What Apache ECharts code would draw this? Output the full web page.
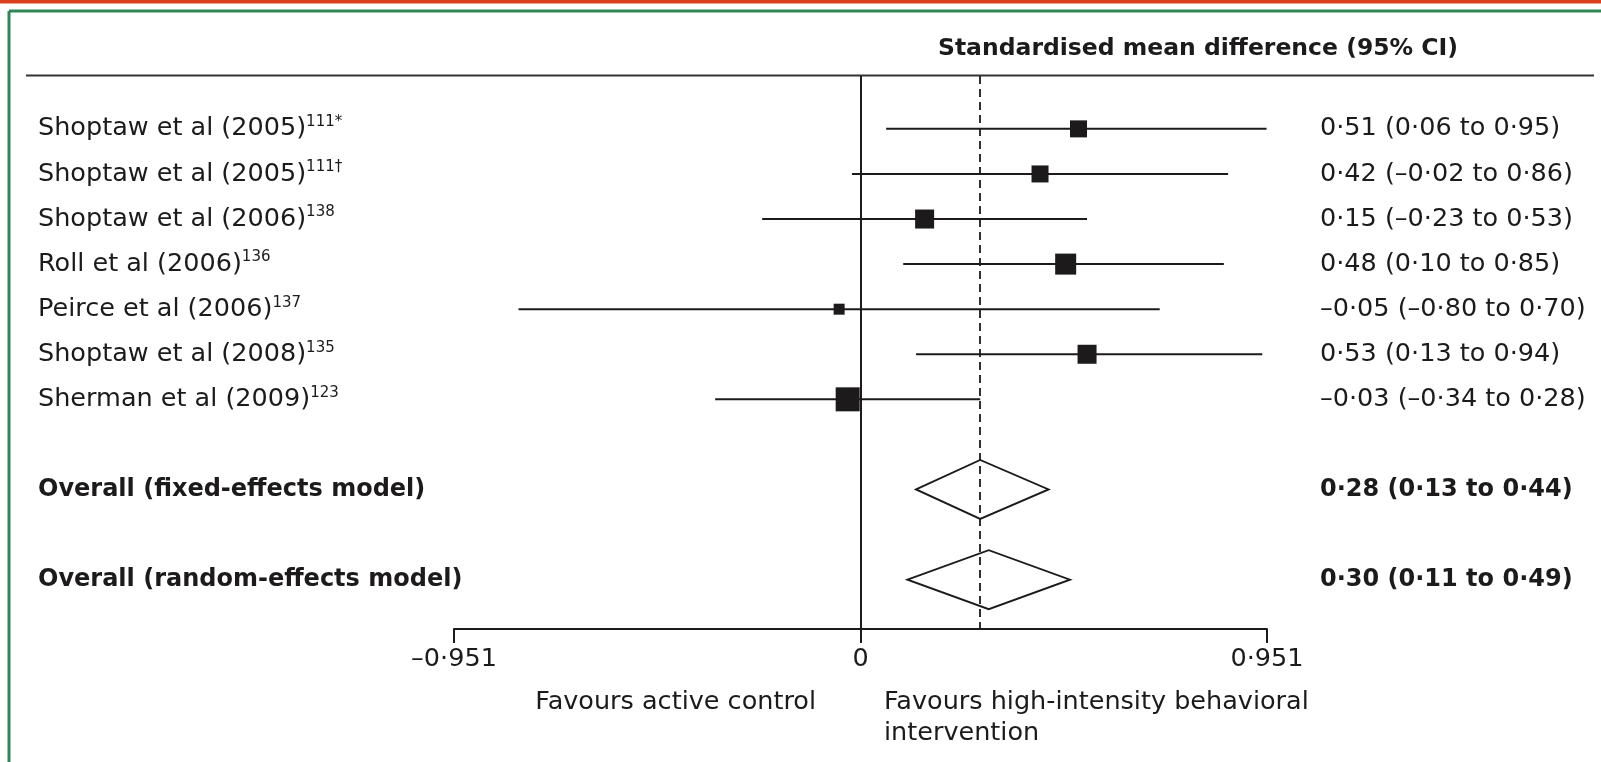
<!DOCTYPE html>
<html>
<head>
<meta charset="utf-8">
<script src="https://cdn.jsdelivr.net/npm/echarts@6/dist/echarts.min.js"></script>
<style>
html,body{margin:0;padding:0;background:#fff;}
#chart{width:1601px;height:762px;}
</style>
</head>
<body>
<div id="chart"></div>
<script>
// ---------- data ----------
const studyNames = ['Shoptaw et al (2005)', 'Shoptaw et al (2005)', 'Shoptaw et al (2006)', 'Roll et al (2006)', 'Peirce et al (2006)', 'Shoptaw et al (2008)', 'Sherman et al (2009)'];
const studyRefs = ['111*', '111\u2020', '138', '136', '137', '135', '123'];
const studyEst = [0.51, 0.42, 0.15, 0.48, -0.05, 0.53, -0.03];
const studyLow = [0.06, -0.02, -0.23, 0.10, -0.80, 0.13, -0.34];
const studyHigh = [0.95, 0.86, 0.53, 0.85, 0.70, 0.94, 0.28];
const pooledNames = ['Overall (fixed-effects model)', 'Overall (random-effects model)'];
const pooledEst = [0.28, 0.30];
const pooledLow = [0.13, 0.11];
const pooledHigh = [0.44, 0.49];
const xTicks = [-0.951, 0, 0.951];
const headerText = 'Standardised mean difference (95% CI)';
const favourLeft = 'Favours active control';
const favourRight = ['Favours high-intensity behavioral', 'intervention'];

// ---------- style ----------
const boxSizes = [17, 17, 19, 21, 11, 19, 24];
const ink = '#1c1a1b';
const FONT = '"DejaVu Sans", sans-serif';
const REG = 25.5;
const BOLD = 24;

function fmt(v) {
  return (v < 0 ? '\u2013' : '') + Math.abs(v).toFixed(2).replace('.', '\u00b7');
}
function ciText(e, l, h) { return fmt(e) + ' (' + fmt(l) + ' to ' + fmt(h) + ')'; }

// row slots: studies 0..n-1, blank, fixed, blank, random
const nS = studyNames.length;
const studyData = studyNames.map((n, i) => [i, studyEst[i], studyLow[i], studyHigh[i]]);
const pooledData = pooledNames.map((n, j) => [nS + 1 + 2 * j, pooledEst[j], pooledLow[j], pooledHigh[j]]);

const chart = echarts.init(document.getElementById('chart'), null, { renderer: 'canvas' });

function renderStudy(params, api) {
  const i = params.dataIndex;
  const k = api.value(0);
  const pE = api.coord([api.value(1), k]);
  const pL = api.coord([api.value(2), k]);
  const pH = api.coord([api.value(3), k]);
  const s = boxSizes[i];
  return {
    type: 'group',
    children: [
      { type: 'line', shape: { x1: pL[0], y1: pL[1], x2: pH[0], y2: pH[1] }, style: { stroke: ink, lineWidth: 2 } },
      { type: 'rect', shape: { x: pE[0] - s / 2, y: pE[1] - s / 2, width: s, height: s }, style: { fill: ink } },
      {
        type: 'text',
        style: {
          x: 38, y: pE[1],
          text: '{m|' + studyNames[i] + '}{s|' + studyRefs[i] + '}',
          align: 'left', verticalAlign: 'middle',
          rich: {
            m: { fontFamily: FONT, fontSize: REG, lineHeight: 28, fill: ink },
            s: { fontFamily: FONT, fontSize: 15, lineHeight: 14, verticalAlign: 'top', fill: ink }
          }
        }
      },
      {
        type: 'text',
        style: {
          x: 1320, y: pE[1],
          text: ciText(studyEst[i], studyLow[i], studyHigh[i]),
          fontFamily: FONT, fontSize: REG, fill: ink,
          align: 'left', verticalAlign: 'middle'
        }
      }
    ]
  };
}

function renderPooled(params, api) {
  const j = params.dataIndex;
  const k = api.value(0);
  const pE = api.coord([api.value(1), k]);
  const pL = api.coord([api.value(2), k]);
  const pH = api.coord([api.value(3), k]);
  const h = 29.5;
  return {
    type: 'group',
    children: [
      {
        type: 'polygon',
        shape: { points: [[pL[0], pE[1]], [pE[0], pE[1] - h], [pH[0], pE[1]], [pE[0], pE[1] + h]] },
        style: { stroke: ink, lineWidth: 1.9, fill: 'rgba(255,255,255,0)' }
      },
      {
        type: 'text',
        style: {
          x: 38, y: pE[1], text: pooledNames[j],
          fontFamily: FONT, fontSize: BOLD, fontWeight: 'bold', fill: ink,
          align: 'left', verticalAlign: 'middle'
        }
      },
      {
        type: 'text',
        style: {
          x: 1320, y: pE[1], text: ciText(pooledEst[j], pooledLow[j], pooledHigh[j]),
          fontFamily: FONT, fontSize: BOLD, fontWeight: 'bold', fill: ink,
          align: 'left', verticalAlign: 'middle'
        }
      }
    ]
  };
}

const option = {
  animation: false,
  backgroundColor: '#ffffff',
  grid: { left: 454, right: 334, top: 76, bottom: 133, containLabel: false },
  xAxis: {
    type: 'value',
    min: xTicks[0], max: xTicks[xTicks.length - 1], interval: xTicks[2] - xTicks[1],
    axisLine: { show: true, onZero: false, lineStyle: { color: ink, width: 2 } },
    axisTick: { show: true, length: 14, lineStyle: { color: ink, width: 2 } },
    splitLine: { show: false },
    axisLabel: {
      margin: 17, color: ink, fontFamily: FONT, fontSize: REG,
      formatter: function (v) { return Math.abs(v) < 1e-9 ? '0' : (v < 0 ? '\u2013' : '') + String(Math.abs(v)).replace('.', '\u00b7'); }
    }
  },
  yAxis: {
    type: 'value', inverse: true, min: -1.173, max: 11.095, show: false
  },
  series: [
    {
      type: 'custom', renderItem: renderStudy, data: studyData,
      encode: { x: [1, 2, 3], y: 0 }, silent: true, z: 3,
      markLine: {
        silent: true, symbol: 'none', label: { show: false },
        data: [
          { xAxis: 0, lineStyle: { color: ink, width: 2, type: 'solid' } },
          { xAxis: pooledEst[0], lineStyle: { color: ink, width: 1.8, type: [8, 5] } }
        ]
      }
    },
    {
      type: 'custom', renderItem: renderPooled, data: pooledData,
      encode: { x: [1, 2, 3], y: 0 }, silent: true, z: 2
    }
  ],
  graphic: [
    { type: 'rect', shape: { x: 0, y: 0, width: 1601, height: 3.5 }, style: { fill: '#d9411c' }, silent: true },
    { type: 'line', shape: { x1: 9, y1: 11, x2: 1601, y2: 11 }, style: { stroke: '#2f8656', lineWidth: 3 }, silent: true },
    { type: 'line', shape: { x1: 9, y1: 11, x2: 9, y2: 762 }, style: { stroke: '#2f8656', lineWidth: 3 }, silent: true },
    { type: 'line', shape: { x1: 26, y1: 75.5, x2: 1594, y2: 75.5 }, style: { stroke: '#333333', lineWidth: 2 }, silent: true },
    {
      type: 'text', x: 1198, y: 49, silent: true,
      style: { text: headerText, fontFamily: FONT, fontSize: 23.5, fontWeight: 'bold', fill: ink, align: 'center', verticalAlign: 'middle' }
    },
    {
      type: 'text', x: 816, y: 702, silent: true,
      style: { text: favourLeft, fontFamily: FONT, fontSize: REG, fill: ink, align: 'right', verticalAlign: 'middle' }
    },
    {
      type: 'text', x: 884, y: 702, silent: true,
      style: { text: favourRight[0], fontFamily: FONT, fontSize: REG, fill: ink, align: 'left', verticalAlign: 'middle' }
    },
    {
      type: 'text', x: 884, y: 733, silent: true,
      style: { text: favourRight[1], fontFamily: FONT, fontSize: REG, fill: ink, align: 'left', verticalAlign: 'middle' }
    }
  ]
};
chart.setOption(option);
</script>
</body>
</html>
